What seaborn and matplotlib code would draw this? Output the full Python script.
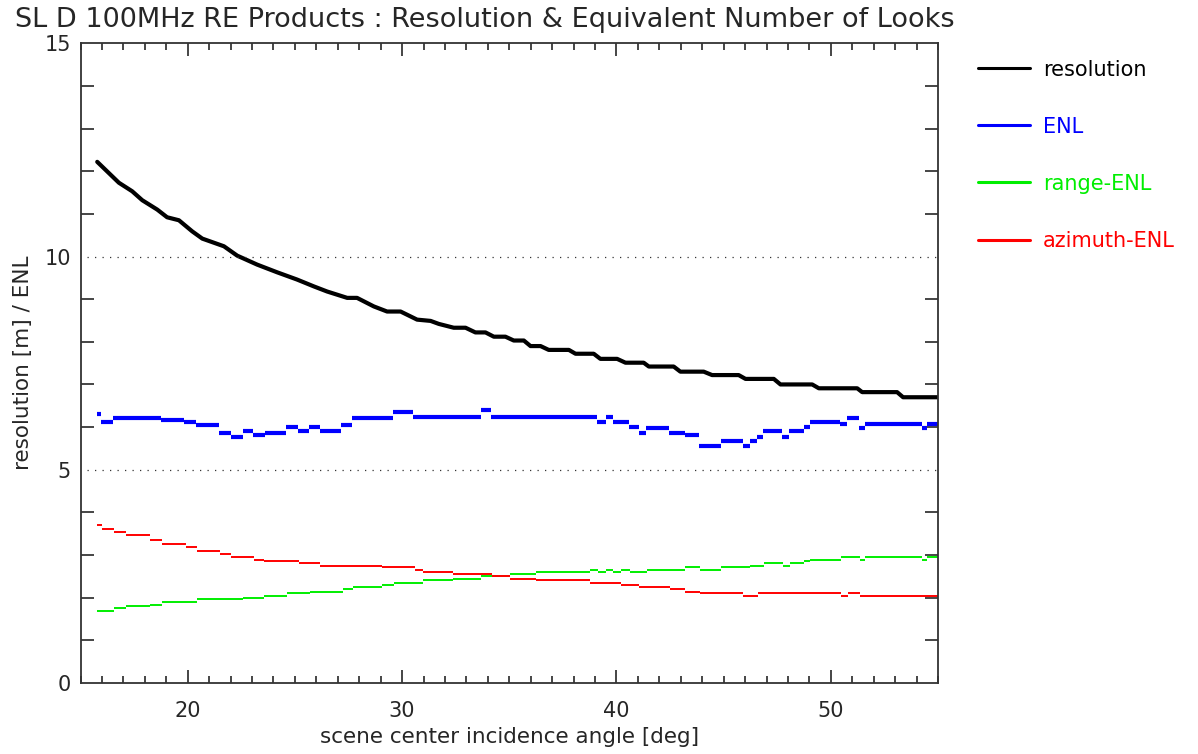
import numpy as np
import pandas as pd
import matplotlib
matplotlib.use("Agg")
import matplotlib.pyplot as plt
from matplotlib.lines import Line2D
from matplotlib.ticker import MultipleLocator
import seaborn as sns

# resolution curve (angle [deg], resolution [m])
res_angle = [15.78, 16.79, 17.41, 17.88, 18.58, 19.04, 19.59, 20.21, 20.68, 21.69,
             22.31, 23.24, 24.17, 25.1, 25.88, 26.5, 27.44, 27.9, 28.68, 29.3,
             29.93, 30.7, 31.33, 31.71, 32.41, 32.96, 33.42, 33.89, 34.28, 34.82,
             35.21, 35.68, 35.99, 36.46, 36.84, 37.78, 38.09, 38.94, 39.25, 40.03,
             40.42, 41.27, 41.51, 42.67, 42.98, 44.07, 44.46, 45.7, 46.02, 47.34,
             47.65, 49.13, 49.44, 51.23, 51.46, 53.09, 53.37, 55.0]
resolution = [12.22, 11.73, 11.53, 11.32, 11.10, 10.92, 10.85, 10.59, 10.42, 10.24,
              10.02, 9.81, 9.63, 9.46, 9.30, 9.18, 9.03, 9.03, 8.83, 8.71,
              8.71, 8.52, 8.49, 8.42, 8.33, 8.33, 8.22, 8.22, 8.12, 8.12,
              8.03, 8.03, 7.90, 7.90, 7.81, 7.81, 7.72, 7.72, 7.60, 7.60,
              7.51, 7.51, 7.42, 7.42, 7.30, 7.30, 7.22, 7.22, 7.13, 7.13,
              7.00, 7.00, 6.91, 6.91, 6.82, 6.82, 6.70, 6.70]

# ENL: piecewise constant, edges of each angle bin and the value in it
enl_edges = [15.77, 15.97, 16.5, 18.76, 19.85, 20.4, 21.48, 22.0, 22.57, 23.04,
             23.6, 24.6, 25.13, 25.67, 26.16, 27.16, 27.67, 29.57, 30.52, 33.66,
             34.13, 39.1, 39.5, 39.85, 40.6, 41.04, 41.4, 42.47, 43.19, 43.84,
             44.88, 45.9, 46.25, 46.56, 46.84, 47.74, 48.07, 48.77, 49.02, 50.45,
             50.76, 51.33, 51.6, 54.23, 54.5, 55.0]
enl = [6.31, 6.12, 6.22, 6.16, 6.12, 6.06, 5.85, 5.76, 5.91, 5.82,
       5.85, 6.01, 5.91, 6.01, 5.91, 6.06, 6.22, 6.36, 6.24, 6.40,
       6.24, 6.12, 6.24, 6.12, 6.00, 5.85, 5.98, 5.85, 5.82, 5.55,
       5.67, 5.55, 5.67, 5.77, 5.92, 5.76, 5.92, 6.01, 6.13, 6.07,
       6.22, 5.97, 6.07, 5.97, 6.07]

rg_edges = [15.75, 16.55, 17.13, 18.23, 18.81, 20.44, 22.59, 23.58, 24.64, 25.7,
            27.25, 27.7, 29.07, 29.61, 30.98, 32.38, 33.69, 35.02, 36.27, 38.75,
            39.13, 39.49, 39.85, 40.22, 40.65, 41.43, 43.22, 43.88, 44.88, 46.25,
            46.87, 47.77, 48.08, 48.77, 49.05, 50.48, 51.38, 51.61, 54.26, 54.5, 55.0]
range_enl = [1.69, 1.75, 1.80, 1.84, 1.90, 1.96, 1.99, 2.05, 2.11, 2.14,
             2.20, 2.26, 2.29, 2.35, 2.41, 2.44, 2.50, 2.56, 2.60, 2.65,
             2.60, 2.65, 2.60, 2.65, 2.60, 2.65, 2.71, 2.65, 2.71, 2.74,
             2.81, 2.74, 2.81, 2.86, 2.89, 2.96, 2.89, 2.96, 2.89, 2.96]

az_edges = [15.75, 16.0, 16.55, 17.13, 18.23, 18.81, 19.9, 20.44, 21.53, 22.03,
            23.08, 23.58, 25.18, 26.19, 29.07, 30.58, 30.98, 32.38, 34.2, 35.02,
            36.27, 38.75, 40.22, 41.07, 42.52, 43.22, 43.88, 45.91, 46.59, 50.48,
            50.79, 51.38, 55.0]
azimuth_enl = [3.71, 3.61, 3.55, 3.47, 3.35, 3.26, 3.19, 3.10, 3.02, 2.96,
               2.89, 2.86, 2.81, 2.74, 2.71, 2.65, 2.60, 2.56, 2.50, 2.44,
               2.41, 2.34, 2.29, 2.26, 2.20, 2.14, 2.11, 2.05, 2.11, 2.05,
               2.11, 2.05]

labels = ["resolution", "ENL", "range-ENL", "azimuth-ENL"]
colors = ["black", "#0000ff", "#00ee00", "#ff0000"]
text_col = "#262626"

sns.set_style("white")
plt.rcParams["font.family"] = ["DejaVu Sans"]

fig = plt.figure(figsize=(11.98, 7.54), dpi=100)
ax = fig.add_axes([0.0672, 0.0942, 0.7158, 0.8484])

df_res = pd.DataFrame({"angle": res_angle, "resolution": resolution})
sns.lineplot(data=df_res, x="angle", y="resolution", color=colors[0],
             linewidth=3.0, ax=ax, estimator=None, sort=False)


def steps(edges, vals, color, lw):
    e = np.asarray(edges)
    ax.hlines(vals, e[:-1], e[1:], colors=color, linewidth=lw, capstyle="butt")


steps(enl_edges, enl, colors[1], 3.0)
steps(rg_edges, range_enl, colors[2], 1.4)
steps(az_edges, azimuth_enl, colors[3], 1.4)

for yv in (5, 10):
    ax.axhline(yv, xmin=0.007, color="#333333", linewidth=0.9, dashes=(1, 5))

ax.set_xlim(15, 55)
ax.set_ylim(0, 15)
ax.xaxis.set_major_locator(MultipleLocator(10))
ax.xaxis.set_minor_locator(MultipleLocator(1))
ax.yaxis.set_major_locator(MultipleLocator(5))
ax.yaxis.set_minor_locator(MultipleLocator(1))
ax.tick_params(which="both", direction="in", top=True, right=True,
               bottom=True, left=True, colors=text_col, labelsize=15, width=1.2)
ax.tick_params(axis="x", which="major", length=9.5, pad=13)
ax.tick_params(axis="x", which="minor", length=5)
ax.tick_params(axis="y", which="major", length=0, pad=7)
ax.tick_params(axis="y", which="minor", length=9.5)
ax.set_xticks([20, 30, 40, 50])
for s in ax.spines.values():
    s.set_color("#333333")
    s.set_linewidth(1.3)

ax.set_xlabel("scene center incidence angle [deg]", fontsize=15.5, color=text_col, labelpad=4)
ax.set_ylabel("resolution [m] / ENL", fontsize=15.5, color=text_col, labelpad=8)

fig.text(0.0125, 0.973, "SL D 100MHz RE Products : Resolution & Equivalent Number of Looks",
         fontsize=19.5, color=text_col, ha="left", va="center")

handles = [Line2D([0], [0], color=c, linewidth=2.2) for c in colors]
fig.legend(handles, labels, loc="upper left", bbox_to_anchor=(0.8164, 0.921),
           frameon=False, fontsize=15, labelcolor=colors, handlelength=2.5,
           handletextpad=0.62, labelspacing=1.78, borderpad=0, borderaxespad=0)

fig.savefig("out.png", dpi=100)
